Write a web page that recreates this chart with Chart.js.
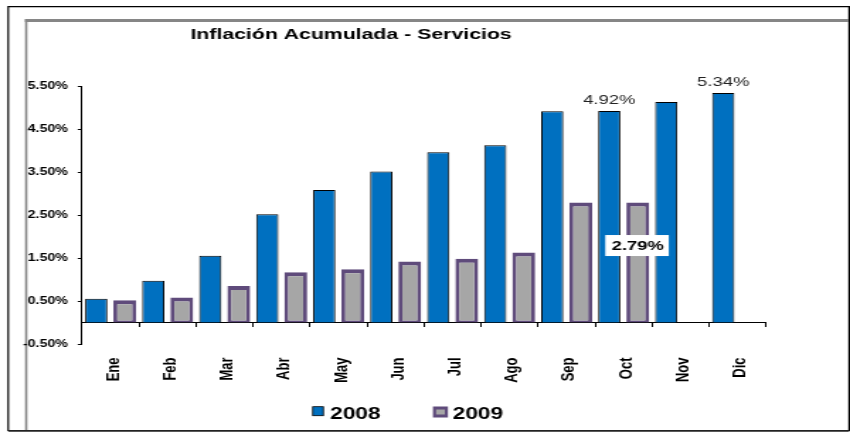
<!DOCTYPE html>
<html><head><meta charset="utf-8">
<script src="https://cdn.jsdelivr.net/npm/chart.js@4.4.1/dist/chart.umd.min.js"></script>
<style>html,body{margin:0;padding:0;background:#fff;overflow:hidden}
#c{display:block}</style>
</head><body>
<canvas id="c" width="600" height="432" style="width:850px;height:432px"></canvas>
<script>
// ---- data ----
const chartTitle = 'Inflación Acumulada - Servicios';
const categories = ['Ene','Feb','Mar','Abr','May','Jun','Jul','Ago','Sep','Oct','Nov','Dic'];
const seriesNames = ['2008','2009'];
const values2008 = [0.55,0.97,1.55,2.52,3.08,3.51,3.96,4.12,4.91,4.92,5.13,5.34];
const values2009 = [0.52,0.58,0.85,1.17,1.24,1.42,1.48,1.63,2.79,2.79,null,null];
const yTickValues = [-0.5,0.5,1.5,2.5,3.5,4.5,5.5];
// labelled points: [seriesIndex, categoryIndex]
const labelledPoints = [[0,9],[0,11],[1,9]];

const FONT = 'Arial, "Liberation Sans", Helvetica, sans-serif';
const fmt = v => v.toFixed(2) + '%';

const decor = {
  id: 'decor',
  beforeDraw(chart) {
    const ctx = chart.ctx;
    ctx.save();
    ctx.fillStyle = '#fff';
    ctx.fillRect(0, 0, chart.width, chart.height);
    // outer black frame
    ctx.strokeStyle = '#000';
    ctx.lineWidth = 1.2;
    ctx.beginPath();
    ctx.moveTo(5.8, 431); ctx.lineTo(5.8, 6.7); ctx.lineTo(599.4, 6.7); ctx.lineTo(599.4, 431);
    ctx.stroke();
    ctx.strokeStyle = '#222';
    ctx.lineWidth = 1.8;
    ctx.beginPath(); ctx.moveTo(5.8, 430.8); ctx.lineTo(599.4, 430.8); ctx.stroke();
    // inner gray frame
    ctx.strokeStyle = '#868686';
    ctx.lineWidth = 2.8;
    ctx.beginPath(); ctx.moveTo(17.6, 20.5); ctx.lineTo(599, 20.5); ctx.stroke();
    ctx.lineWidth = 1.6;
    ctx.beginPath(); ctx.moveTo(18.5, 19.2); ctx.lineTo(18.5, 430); ctx.stroke();
    ctx.restore();
  },
  afterDatasetsDraw(chart) {
    const ctx = chart.ctx;
    ctx.save();
    labelledPoints.forEach(([ds, i]) => {
      const bar = chart.getDatasetMeta(ds).data[i];
      const v = chart.data.datasets[ds].data[i];
      const txt = fmt(v);
      if (ds === 0) {
        ctx.font = '13px ' + FONT;
        ctx.fillStyle = '#222';
        ctx.textAlign = 'center';
        ctx.textBaseline = 'alphabetic';
        ctx.fillText(txt, bar.x, bar.y - 7);
      } else {
        ctx.font = 'bold 13px ' + FONT;
        const w = ctx.measureText(txt).width + 8;
        const cy = bar.y + 43;
        ctx.fillStyle = '#fff';
        ctx.fillRect(bar.x - w / 2 - 0.5, cy - 10.5, w, 21);
        ctx.fillStyle = '#000';
        ctx.textAlign = 'center';
        ctx.textBaseline = 'middle';
        ctx.fillText(txt, bar.x, cy + 0.5);
      }
    });
    ctx.restore();
  },
  afterDraw(chart) {
    const ctx = chart.ctx;
    ctx.save();
    // title
    ctx.font = 'bold 15px ' + FONT;
    ctx.fillStyle = '#000';
    ctx.textAlign = 'center';
    ctx.textBaseline = 'alphabetic';
    ctx.fillText(chartTitle, 247.8, 38.5);
    // legend
    const ds = chart.data.datasets;
    ctx.font = 'bold 16px ' + FONT;
    ctx.textAlign = 'left';
    ctx.fillStyle = ds[0].backgroundColor;
    ctx.fillRect(220.8, 406.7, 7.4, 9);
    ctx.strokeStyle = '#000';
    ctx.lineWidth = 0.8;
    ctx.strokeRect(220.8, 406.7, 7.4, 9);
    ctx.fillStyle = '#000';
    ctx.fillText(ds[0].label, 233, 419);
    ctx.fillStyle = ds[1].borderColor;
    ctx.fillRect(305.6, 406.5, 10.6, 11);
    ctx.fillStyle = ds[1].backgroundColor;
    ctx.fillRect(307.8, 409.5, 6.2, 5);
    ctx.fillStyle = '#000';
    ctx.fillText(ds[1].label, 319.5, 419);
    ctx.restore();
  }
};

new Chart(document.getElementById('c'), {
  type: 'bar',
  data: {
    labels: categories,
    datasets: [
      { label: seriesNames[0], data: values2008, backgroundColor: '#0070c0', borderColor: '#000', borderWidth: 1,
        categoryPercentage: 1.0, barPercentage: 0.78 },
      { label: seriesNames[1], data: values2009, backgroundColor: '#a6a6a6', borderColor: '#5f4b7b',
        borderWidth: { top: 4, left: 2.8, right: 2.8, bottom: 2 }, borderSkipped: false,
        categoryPercentage: 1.0, barPercentage: 0.8 }
    ]
  },
  options: {
    responsive: false,
    devicePixelRatio: 1,
    animation: false,
    layout: { padding: { left: 0, right: 59.3, top: 86, bottom: 88 } },
    plugins: { legend: { display: false }, tooltip: { enabled: false }, title: { display: false } },
    scales: {
      x: {
        type: 'category',
        position: { y: 0 },
        offset: true,
        z: 1,
        grid: { display: true, drawOnChartArea: false, drawTicks: true, tickLength: 4, color: '#000', offset: true, lineWidth: 1 },
        border: { display: true, color: '#000', width: 1 },
        ticks: { autoSkip: false, minRotation: 90, maxRotation: 90, padding: 31, labelOffset: 2, color: '#000',
                 font: { family: FONT, size: 13, weight: 'bold' } }
      },
      y: {
        min: -0.5, max: 5.5,
        afterBuildTicks: s => { s.ticks = yTickValues.map(v => ({ value: v })); },
        afterFit: s => { s.width = 57.9; },
        grid: { display: true, drawOnChartArea: false, drawTicks: true, tickLength: 3, color: '#000' },
        border: { display: true, color: '#000', width: 1 },
        ticks: { padding: 7, color: '#000', font: { family: FONT, size: 10, weight: 'bold' },
                 callback: v => fmt(v) }
      }
    }
  },
  plugins: [decor]
});
</script>
</body></html>
